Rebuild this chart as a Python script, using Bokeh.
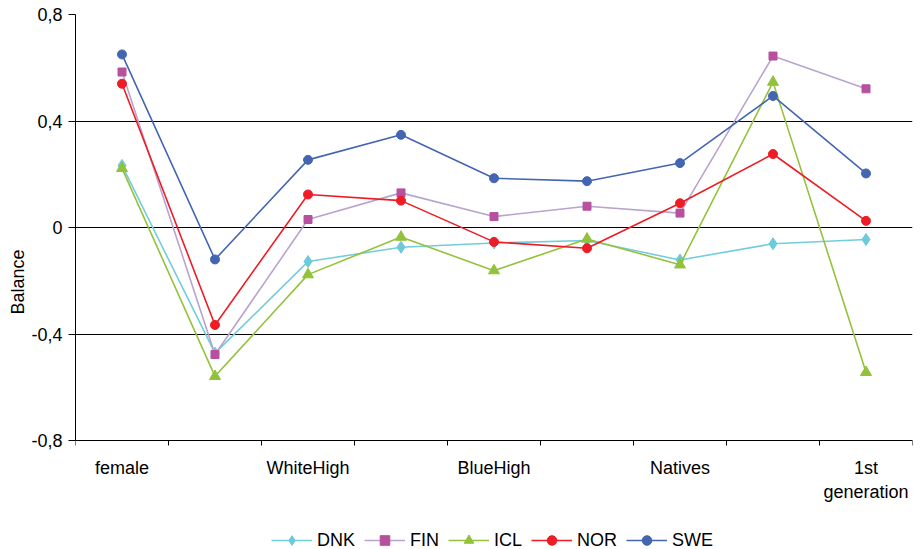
from bokeh.plotting import figure
from bokeh.models import FixedTicker, Legend, LegendItem, Range1d
from bokeh.embed import file_html
from bokeh.resources import INLINE

# ---- data ----
positions = [1, 2, 3, 4, 5, 6, 7, 8, 9]
label_positions = [1, 3, 5, 7, 9]
tick_labels = ["female", "WhiteHigh", "BlueHigh", "Natives", "1st\ngeneration"]
y_ticks = [-0.8, -0.4, 0.0, 0.4, 0.8]
y_tick_labels = ["-0,8", "-0,4", "0", "0,4", "0,8"]

series_names = ["DNK", "FIN", "ICL", "NOR", "SWE"]
dnk = [0.233, -0.472, -0.128, -0.074, -0.058, -0.049, -0.122, -0.061, -0.045]
fin = [0.584, -0.477, 0.030, 0.130, 0.041, 0.080, 0.054, 0.644, 0.521]
icl = [0.222, -0.559, -0.177, -0.036, -0.162, -0.043, -0.140, 0.546, -0.544]
nor = [0.540, -0.366, 0.124, 0.101, -0.054, -0.078, 0.091, 0.276, 0.025]
swe = [0.650, -0.120, 0.254, 0.348, 0.185, 0.174, 0.242, 0.494, 0.203]

FONT = "Liberation Sans"

# layout: the frame runs down to the canvas bottom so that the legend can sit
# inside it; the x axis is pinned at the lowest y tick.
W, H = 924, 549
TOP, LEFT, RIGHT = 14, 75, 12
axis_px = 426                      # pixels between top and bottom y ticks
y_lo, y_hi = min(y_ticks), max(y_ticks)
frame_px = H - TOP
y_start = y_hi - (y_hi - y_lo) * frame_px / axis_px

p = figure(width=W, height=H, output_backend="svg", toolbar_location=None,
           x_range=Range1d(0.5, 9.5), y_range=Range1d(y_start, y_hi),
           min_border_left=LEFT, min_border_right=RIGHT, min_border_top=TOP,
           min_border_bottom=0)
p.outline_line_color = None
p.background_fill_color = "white"
p.border_fill_color = "white"

# grid
p.xgrid.visible = False
p.ygrid.ticker = FixedTicker(ticks=y_ticks)
p.ygrid.grid_line_color = "black"
p.ygrid.grid_line_width = 1

# x axis
xa = p.xaxis[0]
xa.fixed_location = y_lo
xa.ticker = FixedTicker(ticks=label_positions,
                        minor_ticks=[x - 0.5 for x in positions] + [positions[-1] + 0.5])
xa.major_label_overrides = {k: v for k, v in zip(label_positions, tick_labels)}
xa.major_tick_out = 0
xa.major_tick_in = 0
xa.minor_tick_out = 5
xa.minor_tick_in = 0
xa.minor_tick_line_color = "black"
xa.axis_line_color = "black"
xa.major_label_text_font = FONT
xa.major_label_text_font_size = "18px"
xa.major_label_text_color = "black"
xa.major_label_standoff = 12

# y axis
ya = p.yaxis[0]
ya.bounds = (y_lo, y_hi)
ya.ticker = FixedTicker(ticks=y_ticks, minor_ticks=[])
ya.major_label_overrides = {k: v for k, v in zip(y_ticks, y_tick_labels)}
ya.major_tick_out = 7
ya.major_tick_in = 0
ya.minor_tick_out = 0
ya.major_tick_line_color = "black"
ya.axis_line_color = "black"
ya.major_label_text_font = FONT
ya.major_label_text_font_size = "18px"
ya.major_label_text_color = "black"
ya.major_label_standoff = 6
ya.axis_label = "Balance"
ya.axis_label_text_font = FONT
ya.axis_label_text_font_size = "18px"
ya.axis_label_text_font_style = "normal"
ya.axis_label_text_color = "black"
ya.axis_label_standoff = 0

styles = [
    # line color, marker, marker color, marker size
    ("#72CDDC", "diamond", "#6CCAD9", 12),
    ("#B9A3CF", "square", "#B6509F", 8),
    ("#94C23D", "triangle", "#92C13B", 11),
    ("#EE1C25", "circle", "#EE1C25", 9),
    ("#4466B2", "circle", "#4466B2", 9),
]
data = [dnk, fin, icl, nor, swe]

items = []
for name, vals, (lc, mk, mc, ms) in zip(series_names, data, styles):
    r1 = p.line(positions, vals, line_color=lc, line_width=1.6)
    r2 = p.scatter(positions, vals, marker=mk, size=ms, fill_color=mc, line_color=mc)
    items.append(LegendItem(label=name, renderers=[r1, r2]))

legend = Legend(items=items, orientation="horizontal", location=(196, -3))
legend.label_text_font = FONT
legend.label_text_font_size = "18px"
legend.label_text_color = "black"
legend.glyph_width = 41
legend.glyph_height = 24
legend.label_height = 24
legend.label_standoff = 5
legend.spacing = 9
legend.padding = 0
legend.margin = 0
legend.border_line_color = None
legend.background_fill_alpha = 0
p.add_layout(legend, "center")

open("out.html", "w").write(file_html(p, INLINE))
